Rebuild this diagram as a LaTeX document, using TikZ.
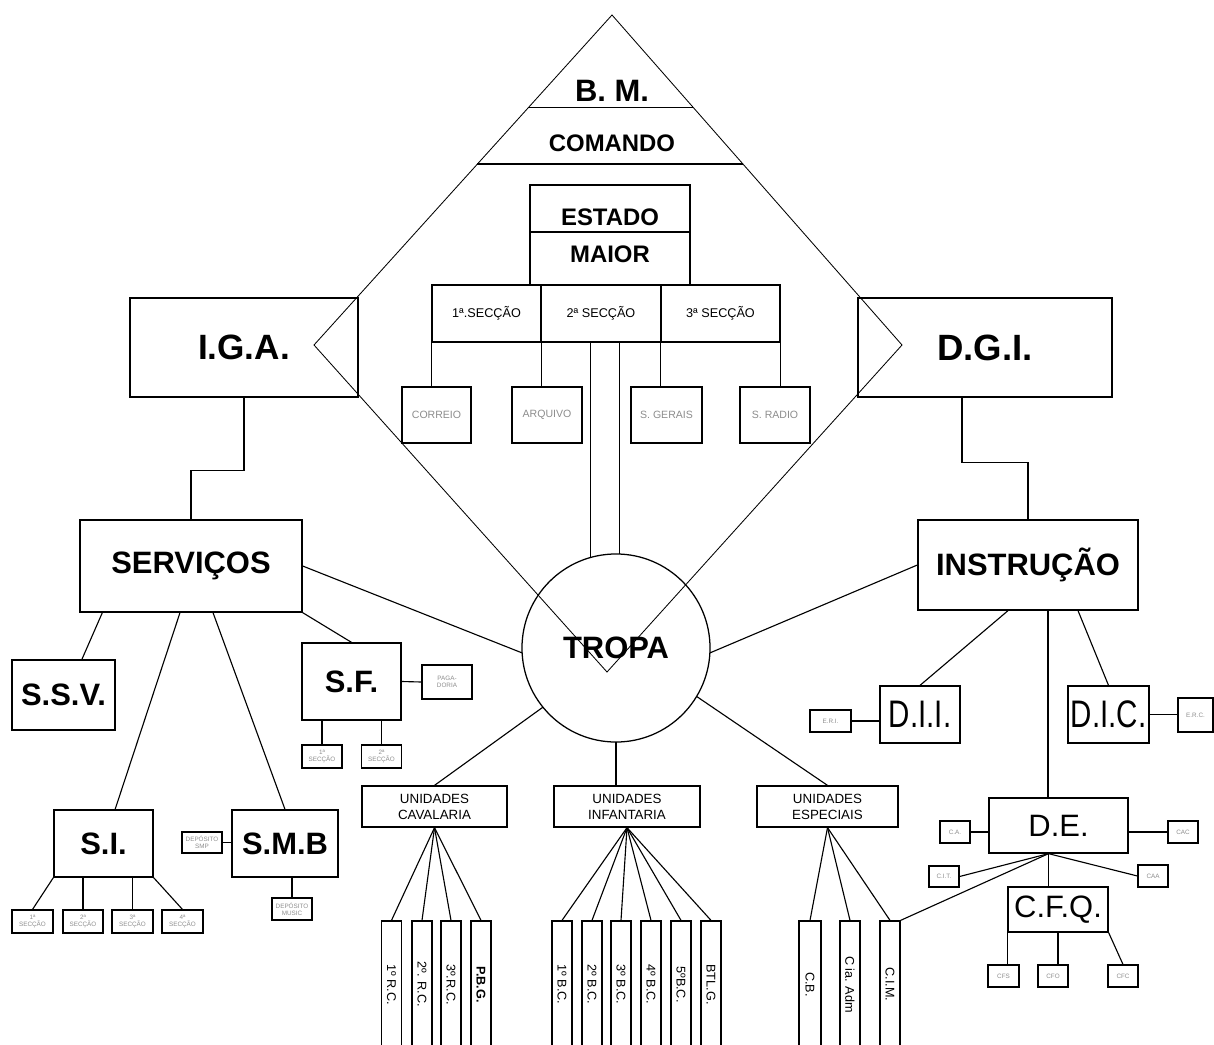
\documentclass[tikz,border=0pt]{standalone}
\usepackage{fontspec}
\usepackage{graphicx}
\setmainfont{Liberation Sans}
\usetikzlibrary{calc}

\newcommand{\fs}[2]{\fontsize{#1}{#2}\selectfont}
\newcommand{\vt}[1]{\rotatebox{-90}{#1}}

\tikzset{
  box/.style={draw, line width=.9pt, inner sep=0pt, align=center},
  bigbox/.style={box, font=\fs{22}{24}\bfseries},
  secbox/.style={box, minimum height=1.425cm, font=\fs{9}{10}},
  subbox/.style={box, minimum height=1.4cm, font=\fs{7.5}{8}, text=black!45},
  minibox/.style={box, line width=.8pt, font=\fs{4.5}{5}, text=black!45},
  unibox/.style={box, minimum height=1.025cm, font=\fs{9.5}{11.4}},
  vbox/.style={box, minimum width=.5cm, minimum height=3.175cm, font=\fs{9}{10}},
  link/.style={line width=.8pt},
}

\begin{document}
\begin{tikzpicture}[x=.025cm, y=-.025cm]
  \useasboundingbox (0,0) rectangle (1214,1044);

  %%comando
  \coordinate (dtop) at (612,15);
  \coordinate (dleft) at (314,345);
  \coordinate (dright) at (902,345);
  \coordinate (dbot) at (607,672);
  \draw[line width=.6pt] (dtop) -- (dright) -- (dbot) -- (dleft) -- cycle;
    \draw[link] ($(dtop)!.279!(dleft)$) -- ($(dtop)!.279!(dright)$);
    \draw[link] ($(dtop)!.4515!(dleft)$) -- ($(dtop)!.4515!(dright)$);
  \node[font=\fs{22}{24}\bfseries] (bm) at (612,91) {B. M.};
  \node[font=\fs{17}{19}\bfseries] (comando) at (612,143) {COMANDO};

  %%estado maior
  \node[box, minimum width=4cm, minimum height=2.5cm] (estado) at (610,235) {};
    \draw[link] ([yshift=.075cm]estado.west) -- ([yshift=.075cm]estado.east);
    \node[font=\fs{17}{19}\bfseries] (estadot) at (610,217) {ESTADO};
    \node[font=\fs{17}{19}\bfseries] (maior) at (610,254) {MAIOR};

  \node[secbox, minimum width=2.725cm] (sec1) at (486.5,313.5) {1ª.SECÇÃO};
  \node[secbox, minimum width=3cm] (sec2) at (601,313.5) {2ª SECÇÃO};
  \node[secbox, minimum width=2.975cm] (sec3) at (720.5,313.5) {3ª SECÇÃO};

    \node[subbox, minimum width=1.725cm] (correio) at (436.5,415) {CORREIO};
    \node[subbox, minimum width=1.75cm] (arquivo) at (547,415) {ARQUIVO};
    \node[subbox, minimum width=1.775cm] (sgerais) at (666.5,415) {S. GERAIS};
    \node[subbox, minimum width=1.75cm] (sradio) at (775,415) {S. RADIO};

    \draw[link] (sec1.south west) -- (sec1.south west |- correio.north);
    \draw[link] (sec1.south east) -- (sec1.south east |- arquivo.north);
    \draw[link] (sec3.south west) -- (sec3.south west |- sgerais.north);
    \draw[link] (sec3.south east) -- (sec3.south east |- sradio.north);

  %%tropa
  \node[circle, draw, line width=.9pt, minimum size=4.7cm, inner sep=0pt, outer sep=0pt,
        font=\fs{22}{24}\bfseries] (tropa) at (616,648) {TROPA};
    \draw[link] (tropa.106 |- sec2.south) -- (tropa.106);
    \draw[link] (tropa.88 |- sec2.south) -- (tropa.88);

  %%iga / dgi
  \node[box, minimum width=5.7cm, minimum height=2.475cm, font=\fs{25}{27}\bfseries] (iga) at (244,347.5) {I.G.A.};
  \node[box, minimum width=6.35cm, minimum height=2.475cm, font=\fs{26}{28}\bfseries] (dgi) at (985,347.5) {D.G.I.};

  \node[bigbox, minimum width=5.55cm, minimum height=2.3cm] (serv) at (191,566) {SERVIÇOS};
  \node[bigbox, minimum width=5.5cm, minimum height=2.25cm] (instr) at (1028,565) {INSTRUÇÃO};

    \draw[link] (iga.south) -- ++(0,73) -| (serv.north);
    \draw[link] ([xshift=-.575cm]dgi.south) -- ++(0,65) -| (instr.north);

    \draw[link] (serv.east) -- (tropa.183);
    \draw[link] (instr.west) -- (tropa.357);

  %%servicos
  \node[bigbox, minimum width=2.575cm, minimum height=1.75cm] (ssv) at (63.5,695) {S.S.V.};
  \node[bigbox, minimum width=2.475cm, minimum height=1.675cm] (si) at (103.5,843.5) {S.I.};
  \node[bigbox, minimum width=2.65cm, minimum height=1.675cm] (smb) at (285,843.5) {S.M.B};
  \node[bigbox, minimum width=2.475cm, minimum height=1.925cm] (sf) at (351.5,681.5) {S.F.};

    \draw[link] ([xshift=.575cm]serv.south west) -- ([xshift=.46cm]ssv.north);
    \draw[link] ([xshift=-.275cm]serv.south) -- ([xshift=.29cm]si.north);
    \draw[link] ([xshift=.55cm]serv.south) -- (smb.north);
    \draw[link] (serv.south east) -- (sf.north);

      \node[minibox, minimum width=1.25cm, minimum height=.85cm] (pag) at (447,682) {PAGA-\\DORIA};
      \node[minibox, minimum width=1cm, minimum height=.575cm] (sf1) at (322,756.5) {1ª\\SECÇÃO};
      \node[minibox, minimum width=1cm, minimum height=.575cm] (sf2) at (381.5,756.5) {2ª\\SECÇÃO};
        \draw[link] (sf.east) -- (pag.west);
        \draw[link] (sf1.north |- sf.south) -- (sf1.north);
        \draw[link] (sf2.north |- sf.south) -- (sf2.north);

      \node[minibox, minimum width=1.025cm, minimum height=.575cm] (si1) at (32.5,921.5) {1ª\\SECÇÃO};
      \node[minibox, minimum width=1cm, minimum height=.575cm] (si2) at (83,921.5) {2ª\\SECÇÃO};
      \node[minibox, minimum width=1.025cm, minimum height=.575cm] (si3) at (132.5,921.5) {3ª\\SECÇÃO};
      \node[minibox, minimum width=1.025cm, minimum height=.575cm] (si4) at (182.5,921.5) {4ª\\SECÇÃO};
        \draw[link] (si.south west) -- (si1.north);
        \draw[link] (si2.north |- si.south) -- (si2.north);
        \draw[link] (si3.north |- si.south) -- (si3.north);
        \draw[link] (si.south east) -- (si4.north);

      \node[minibox, minimum width=1cm, minimum height=.525cm] (smbl) at (202,842.5) {DEPÓSITO\\SMP};
      \node[minibox, minimum width=1cm, minimum height=.55cm] (smbb) at (292,909) {DEPÓSITO\\MUSIC};
        \draw[link] (smbl.east) -- (smbl.east -| smb.west);
        \draw[link] (smbb.north |- smb.south) -- (smbb.north);

  %%instrucao
  \node[box, minimum width=2cm, minimum height=1.425cm, font=\fs{21}{23}] (dii) at (920,714.5) {\scalebox{1}[1.3]{D.I.I.}};
  \node[box, minimum width=2.025cm, minimum height=1.425cm, font=\fs{21}{23}] (dic) at (1108.5,714.5) {\scalebox{1}[1.3]{D.I.C.}};
  \node[box, minimum width=3.475cm, minimum height=1.375cm, font=\fs{22}{24}] (de) at (1058.5,825.5) {D.E.};

    \draw[link] ([xshift=-.5cm]instr.south) -- (dii.north);
    \draw[link] ([xshift=1.25cm]instr.south) -- (dic.north);
    \draw[link] ([xshift=.5cm]instr.south) -- ([xshift=.5cm]instr.south |- de.north);

      \node[minibox, minimum width=1.025cm, minimum height=.55cm] (eri) at (830.5,721) {E.R.I.};
      \node[minibox, minimum width=.875cm, minimum height=.85cm] (erc) at (1195.5,715) {E.R.C.};
        \draw[link] (eri.east) -- (eri.east -| dii.west);
        \draw[link] (dic.east) -- (dic.east -| erc.west);

      \node[minibox, minimum width=.75cm, minimum height=.55cm] (ca) at (955,832) {C.A.};
      \node[minibox, minimum width=.75cm, minimum height=.55cm] (cac) at (1183,832) {CAC};
      \node[minibox, minimum width=.75cm, minimum height=.525cm] (cit) at (944,876.5) {C.I.T.};
      \node[minibox, minimum width=.75cm, minimum height=.55cm] (caa) at (1153,876) {CAA};
      \node[box, minimum width=2.5cm, minimum height=1.125cm, font=\fs{22}{24}] (cfq) at (1058,909.5) {C.F.Q.};
        \coordinate (dehub) at ([xshift=-.25cm]de.south);
        \draw[link] (ca.east) -- (ca.east -| de.west);
        \draw[link] (de.east |- cac.west) -- (cac.west);
        \draw[link] (dehub) -- (cit.east);
        \draw[link] (dehub) -- (caa.west);
        \draw[link] (dehub) -- (dehub |- cfq.north);

      \node[minibox, minimum width=.775cm, minimum height=.55cm] (cfs) at (1003.5,976) {CFS};
      \node[minibox, minimum width=.75cm, minimum height=.55cm] (cfo) at (1053,976) {CFO};
      \node[minibox, minimum width=.75cm, minimum height=.55cm] (cfc) at (1123,976) {CFC};
        \draw[link] (cfq.south west) -- (cfq.south west |- cfs.north);
        \draw[link] (cfq.south) -- (cfq.south |- cfo.north);
        \draw[link] (cfq.south east) -- (cfc.north);

  %%unidades
  \node[unibox, minimum width=3.625cm] (ucav) at (434.5,806.5) {UNIDADES\\CAVALARIA};
  \node[unibox, minimum width=3.65cm] (uinf) at (627,806.5) {UNIDADES\\INFANTARIA};
  \node[unibox, minimum width=3.525cm] (uesp) at (827.5,806.5) {UNIDADES\\ESPECIAIS};

    \draw[link] (tropa.219) -- (ucav.north);
    \draw[link] (tropa.south) -- (tropa.south |- uinf.north);
    \draw[link] (tropa.329) -- (uesp.north);

      \node[vbox] (rc1) at (391.5,984.5) {\vt{1º R.C.}};
      \node[vbox] (rc2) at (422,984.5) {\vt{2º. R.C.}};
      \node[vbox] (rc3) at (451,984.5) {\vt{3º.R.C.}};
      \node[vbox] (pbg) at (481,984.5) {\vt{\bfseries P.B.G.}};
        \draw[link] (ucav.south) -- (rc1.north);
        \draw[link] (ucav.south) -- (rc2.north);
        \draw[link] (ucav.south) -- (rc3.north);
        \draw[link] (ucav.south) -- (pbg.north);

      \node[vbox] (bc1) at (562,984.5) {\vt{1º B.C.}};
      \node[vbox] (bc2) at (592,984.5) {\vt{2º B.C.}};
      \node[vbox] (bc3) at (621,984.5) {\vt{3º B.C.}};
      \node[vbox] (bc4) at (651,984.5) {\vt{4º B.C.}};
      \node[vbox] (bc5) at (681,984.5) {\vt{5ºB.C.}};
      \node[vbox] (btlg) at (711,984.5) {\vt{BTL.G.}};
        \draw[link] (uinf.south) -- (bc1.north);
        \draw[link] (uinf.south) -- (bc2.north);
        \draw[link] (uinf.south) -- (bc3.north);
        \draw[link] (uinf.south) -- (bc4.north);
        \draw[link] (uinf.south) -- (bc5.north);
        \draw[link] (uinf.south) -- (btlg.north);

      \node[vbox, minimum width=.55cm] (cb) at (810,984.5) {\vt{C.B.}};
      \node[vbox] (cia) at (850,984.5) {\vt{C ia. Adm}};
      \node[vbox] (cim) at (890,984.5) {\vt{C.I.M.}};
        \draw[link] (uesp.south) -- (cb.north);
        \draw[link] (uesp.south) -- (cia.north);
        \draw[link] (uesp.south) -- (cim.north);
        \draw[link] (dehub) -- (cim.north east);

\end{tikzpicture}
\end{document}
